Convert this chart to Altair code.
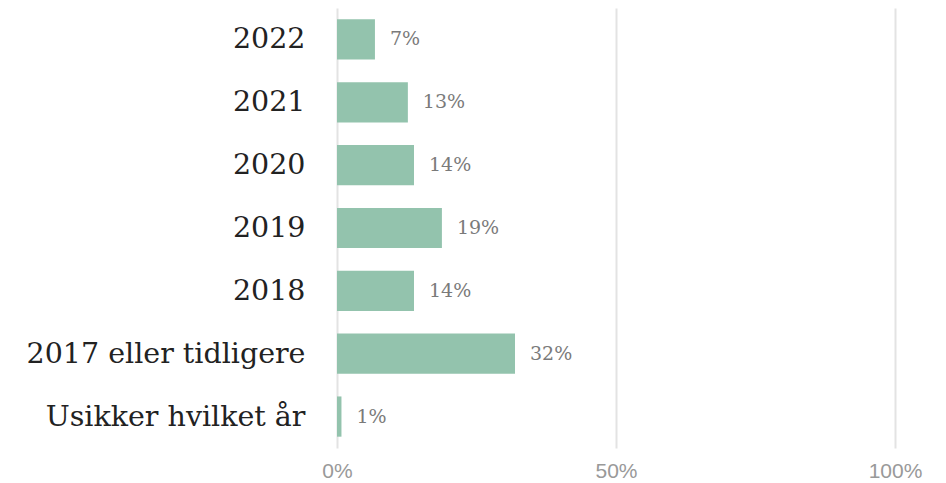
import altair as alt
import pandas as pd

categories = ["2022", "2021", "2020", "2019", "2018", "2017 eller tidligere", "Usikker hvilket år"]
values = [6.8, 12.7, 13.8, 18.8, 13.8, 31.9, 0.8]
labels = ["7%", "13%", "14%", "19%", "14%", "32%", "1%"]

df = pd.DataFrame({"cat": categories, "val": values, "lab": labels})

y_enc = alt.Y("cat:N", sort=categories, title=None,
              scale=alt.Scale(paddingInner=0.36, paddingOuter=0.18),
              axis=alt.Axis(domain=False, ticks=False, labelFont="DejaVu Serif",
                            labelFontSize=28.5, labelColor="#222222", labelPadding=32,
                            labelLimit=400))
x_enc = alt.X("val:Q", title=None, scale=alt.Scale(domain=[0, 100]),
              axis=alt.Axis(values=[0, 50, 100], labelExpr="datum.value + '%'",
                            labelFlush=False,
                            domain=False, ticks=False, grid=True, gridColor="#e3e3e3",
                            gridWidth=2, labelFont="Liberation Sans", labelFontSize=21,
                            labelColor="#999999", labelPadding=12))

bars = alt.Chart(df).mark_bar(color="#93c3ad").encode(x=x_enc, y=y_enc)
text = alt.Chart(df).mark_text(align="left", dx=15, font="DejaVu Serif", fontSize=19,
                               color="#7a7a7a").encode(
    x=alt.X("val:Q"), y=alt.Y("cat:N", sort=categories), text="lab:N")

chart = (bars + text).properties(
    width=558, height=440,
    padding={"left": 18, "top": 0, "right": 5, "bottom": 5}
).configure_view(stroke=None)

chart.save("out.html", embed_options={"renderer": "svg", "actions": False})
